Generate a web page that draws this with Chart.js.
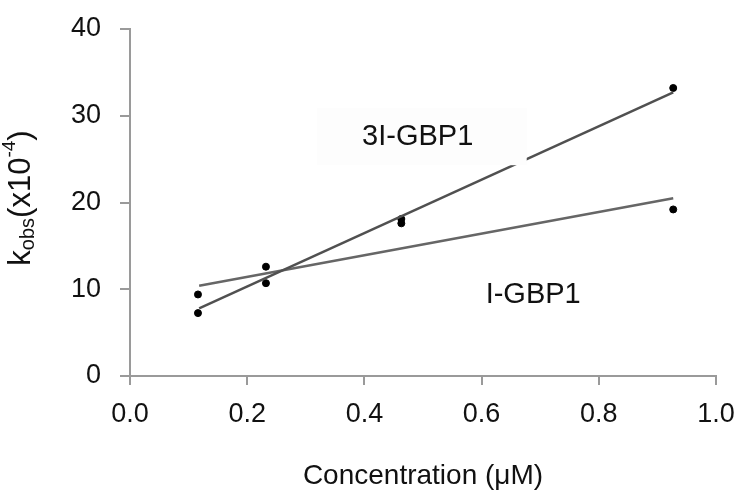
<!DOCTYPE html>
<html>
<head>
<meta charset="utf-8">
<script src="https://cdn.jsdelivr.net/npm/chart.js@4"></script>
<style>
  html, body { margin: 0; padding: 0; background: #fff; }
  #wrap { width: 740px; height: 497px; }
</style>
</head>
<body>
<div id="wrap"><canvas id="kobs"></canvas></div>
<script>
const concentrations = [0.116, 0.232, 0.463, 0.927];
const kobs3I = [7.25, 10.7, 17.6, 33.2];
const kobsI = [9.4, 12.6, 18.1, 19.2];

// fitted lines, endpoints
const fitX = [0.118, 0.927];
const fit3I = [7.8, 32.7];
const fitI = [10.4, 20.5];

const xTicks = [0, 0.2, 0.4, 0.6, 0.8, 1.0];
const yTicks = [0, 10, 20, 30, 40];

const toPoints = (xs, ys) => xs.map((x, i) => ({ x, y: ys[i] }));

const font = "'Liberation Sans', Arial, sans-serif";
const axisGray = "#9a9a9a";

// series labels sitting in the plot, with a white box behind 3I-GBP1
const labelPlugin = {
  id: "labels",
  afterDatasetsDraw(chart) {
    const { ctx, scales } = chart;
    const x = scales.x, y = scales.y;
    ctx.save();
    // box that hides a short piece of the 3I line
    const bx0 = x.getPixelForValue(0.319), bx1 = x.getPixelForValue(0.677);
    const by0 = y.getPixelForValue(30.9), by1 = y.getPixelForValue(24.3);
    ctx.fillStyle = "#fdfdfd";
    ctx.fillRect(bx0, by0, bx1 - bx0, by1 - by0);
    ctx.fillStyle = "#111";
    ctx.font = "29px " + font;
    ctx.textAlign = "center";
    ctx.textBaseline = "middle";
    ctx.fillText("3I-GBP1", x.getPixelForValue(0.491), y.getPixelForValue(27.5));
    ctx.fillText("I-GBP1", x.getPixelForValue(0.688), y.getPixelForValue(9.3));
    ctx.restore();
  },
  afterDraw(chart) {
    // y title with subscript and superscript
    const { ctx } = chart;
    const parts = [
      ["k", 31, 0],
      ["obs", 20, 7],
      ["(x10", 31, 0],
      ["-4", 19, -11],
      [")", 31, 0],
    ];
    ctx.save();
    let total = 0;
    for (const [t, s] of parts) {
      ctx.font = s + "px " + font;
      total += ctx.measureText(t).width;
    }
    ctx.translate(21, 198);
    ctx.rotate(-Math.PI / 2);
    ctx.fillStyle = "#111";
    ctx.textBaseline = "middle";
    let pos = -total / 2;
    for (const [t, s, dy] of parts) {
      ctx.font = s + "px " + font;
      ctx.fillText(t, pos, dy);
      pos += ctx.measureText(t).width;
    }
    ctx.restore();
  },
};

new Chart(document.getElementById("kobs"), {
  type: "scatter",
  data: {
    datasets: [
      {
        label: "3I-GBP1 fit",
        type: "line",
        data: toPoints(fitX, fit3I),
        borderColor: "#505050",
        borderWidth: 2.5,
        pointRadius: 0,
      },
      {
        label: "I-GBP1 fit",
        type: "line",
        data: toPoints(fitX, fitI),
        borderColor: "#666",
        borderWidth: 2.5,
        pointRadius: 0,
      },
      {
        label: "3I-GBP1",
        data: toPoints(concentrations, kobs3I),
        backgroundColor: "#000",
        borderColor: "#000",
        pointRadius: 3.5,
      },
      {
        label: "I-GBP1",
        data: toPoints(concentrations, kobsI),
        backgroundColor: "#000",
        borderColor: "#000",
        pointRadius: 3.5,
      },
    ],
  },
  options: {
    responsive: true,
    maintainAspectRatio: false,
    animation: false,
    layout: { padding: { left: 0, right: 24, top: 29, bottom: 0 } },
    plugins: {
      legend: { display: false },
      tooltip: { enabled: false },
    },
    scales: {
      x: {
        type: "linear",
        min: 0,
        max: 1,
        afterBuildTicks: (s) => { s.ticks = xTicks.map((v) => ({ value: v })); },
        afterFit: (s) => {
          s.height = 121;
          s.paddingLeft = 0;
          s.paddingRight = 0;
        },
        border: { color: axisGray, width: 2 },
        grid: { drawOnChartArea: false, color: axisGray, lineWidth: 2, tickLength: 9 },
        ticks: {
          color: "#111",
          font: { family: font, size: 27 },
          padding: 13,
          callback: (v) => v.toFixed(1),
        },
        title: {
          display: true,
          text: "Concentration (μM)",
          color: "#111",
          font: { family: font, size: 28 },
          padding: { top: 17 },
        },
      },
      y: {
        min: 0,
        max: 40,
        afterBuildTicks: (s) => { s.ticks = yTicks.map((v) => ({ value: v })); },
        afterFit: (s) => {
          s.width = 130;
          s.paddingTop = 0;
          s.paddingBottom = 0;
        },
        border: { color: axisGray, width: 2 },
        grid: { drawOnChartArea: false, color: axisGray, lineWidth: 2, tickLength: 10 },
        ticks: {
          color: "#111",
          font: { family: font, size: 27 },
          padding: 19,
        },
      },
    },
  },
  plugins: [labelPlugin],
});
</script>
</body>
</html>
